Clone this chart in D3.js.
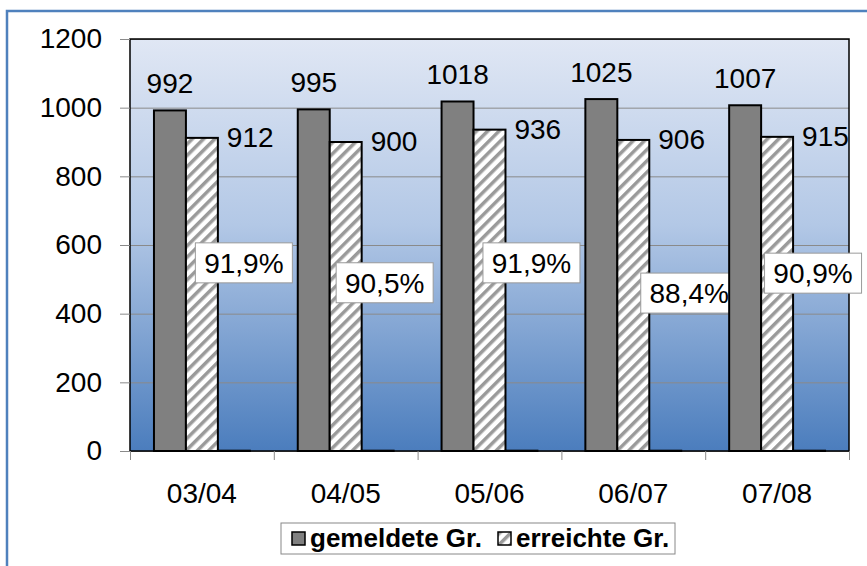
<!DOCTYPE html>
<html>
<head>
<meta charset="utf-8">
<script src="https://cdn.jsdelivr.net/npm/d3@7"></script>
<style>
  body { margin: 0; background: #fff; }
  svg { display: block; font-family: "Liberation Sans", Arial, sans-serif; }
</style>
</head>
<body>
<svg></svg>
<script>
const years = ['03/04', '04/05', '05/06', '06/07', '07/08']
const gemeldet = [992, 995, 1018, 1025, 1007]
const erreicht = [912, 900, 936, 906, 915]
const quote = [0.919, 0.905, 0.919, 0.884, 0.909]
const yTicks = [0, 200, 400, 600, 800, 1000, 1200]
const seriesNames = ['gemeldete Gr.', 'erreichte Gr.']

// where the percent boxes were dragged to (x nudge px, y in axis units)
const quoteNudge = [10, 7, 10, 24, 4]
const quoteAt = [548, 490, 548, 460, 518]

const width = 867, height = 566
const svg = d3.select('svg').attr('width', width).attr('height', height)

const margin = { top: 39, left: 130, right: 18, bottom: 115 }
const innerWidth = width - margin.left - margin.right
const innerHeight = height - margin.top - margin.bottom
const fs = 28
const font = '"Liberation Sans", Arial, sans-serif'

const de = d3.formatLocale({ decimal: ',', thousands: '.', grouping: [3], currency: ['', ' €'] })
const pct = de.format('.1%')

const defs = svg.append('defs')
const grad = defs.append('linearGradient').attr('id', 'bg')
  .attr('x1', 0).attr('y1', 0).attr('x2', 0).attr('y2', 1)
grad.append('stop').attr('offset', '0%').attr('stop-color', '#e0e7f4')
grad.append('stop').attr('offset', '45%').attr('stop-color', '#b3c8e6')
grad.append('stop').attr('offset', '100%').attr('stop-color', '#4b7dbd')

const hatch = defs.append('pattern').attr('id', 'hatch')
  .attr('patternUnits', 'userSpaceOnUse').attr('width', 8).attr('height', 8)
  .attr('patternTransform', 'rotate(45)')
hatch.append('rect').attr('width', 8).attr('height', 8).attr('fill', '#fff')
hatch.append('rect').attr('width', 3.5).attr('height', 8).attr('fill', '#9a9a9a')

// outer frame (runs past the right and bottom edge like the original)
svg.append('path')
  .attr('d', `M${width},11 H7 V${height}`)
  .attr('fill', 'none').attr('stroke', '#4f81bd').attr('stroke-width', 2.5)

const g = svg.append('g').attr('transform', `translate(${margin.left},${margin.top})`)

const x0 = d3.scaleBand().domain(years).range([0, innerWidth])
  .paddingInner(1 / 3).paddingOuter(1 / 6)
const x1 = d3.scaleBand().domain([0, 1, 2]).range([0, x0.bandwidth()])
const xEdge = d3.scaleLinear().domain([0, years.length]).range([0, innerWidth])
const yScale = d3.scaleLinear().domain([0, 1200]).range([innerHeight, 0])

g.append('rect').attr('width', innerWidth).attr('height', innerHeight).attr('fill', 'url(#bg)')

// gridlines
g.append('g')
  .call(d3.axisLeft(yScale).tickValues(yTicks).tickSize(-innerWidth).tickFormat(''))
  .call(a => a.select('.domain').remove())
  .call(a => a.selectAll('line').attr('stroke', '#8a8a8a').attr('stroke-width', 1))

// plot border
g.append('rect').attr('width', innerWidth).attr('height', innerHeight)
  .attr('fill', 'none').attr('stroke', '#000').attr('stroke-width', 1.5)

// y axis
g.append('g')
  .call(d3.axisLeft(yScale).tickValues(yTicks).tickSize(10).tickPadding(18).tickSizeOuter(0).tickFormat(d3.format('d')))
  .attr('font-size', fs).attr('font-family', font)
  .call(a => a.select('.domain').remove())
  .call(a => a.selectAll('line').attr('stroke', '#8a8a8a'))
  .call(a => a.selectAll('text').attr('fill', '#000'))

// x axis ticks at category edges
g.append('g').attr('transform', `translate(0,${innerHeight})`)
  .call(d3.axisBottom(xEdge).tickValues(d3.range(years.length + 1)).tickSize(9).tickFormat(''))
  .call(a => a.select('.domain').remove())
  .call(a => a.selectAll('line').attr('stroke', '#8a8a8a'))

g.append('g').attr('transform', `translate(0,${innerHeight})`)
  .call(d3.axisBottom(x0).tickSize(0).tickPadding(32))
  .attr('font-size', fs).attr('font-family', font)
  .call(a => a.select('.domain').remove())
  .call(a => a.selectAll('text').attr('fill', '#000'))

const rows = years.map((y, i) => ({ year: y, vals: [gemeldet[i], erreicht[i], quote[i]], i }))

const groups = g.selectAll('.grp').data(rows).enter().append('g')
  .attr('transform', d => `translate(${x0(d.year)},0)`)

const fills = ['#808080', 'url(#hatch)', '#111']
groups.selectAll('rect').data(d => d.vals.map((v, k) => ({ v, k }))).enter().append('rect')
  .attr('x', d => x1(d.k))
  .attr('y', d => yScale(d.v))
  .attr('width', x1.bandwidth())
  .attr('height', d => innerHeight - yScale(d.v))
  .attr('fill', d => fills[d.k])
  .attr('stroke', '#000')
  .attr('stroke-width', 2)

// value labels
groups.append('text')
  .attr('x', x1(0) + x1.bandwidth() / 2)
  .attr('y', d => yScale(d.vals[0]) - 17)
  .attr('text-anchor', 'middle').attr('font-size', fs)
  .text(d => d.vals[0])

groups.append('text')
  .attr('x', x1(1) + x1.bandwidth() + 9)
  .attr('y', d => yScale(d.vals[1]) + 9)
  .attr('font-size', fs)
  .text(d => d.vals[1])

// percent boxes
const boxW = 97, boxH = 40
const qb = groups.append('g')
  .attr('transform', d => `translate(${x1(2) + x1.bandwidth() / 2 + quoteNudge[d.i]},${yScale(quoteAt[d.i])})`)
qb.append('rect').attr('x', -boxW / 2).attr('y', -boxH / 2).attr('width', boxW).attr('height', boxH)
  .attr('fill', '#fff').attr('stroke', '#9a9a9a').attr('stroke-width', 1)
qb.append('text').attr('text-anchor', 'middle').attr('y', 10).attr('font-size', fs)
  .text(d => pct(d.vals[2]))

// legend
const lg = svg.append('g').attr('transform', 'translate(281,523)')
lg.append('rect').attr('width', 394).attr('height', 31)
  .attr('fill', '#fff').attr('stroke', '#888').attr('stroke-width', 1)
const legX = [11, 217]
const legItems = lg.selectAll('.li').data(seriesNames).enter().append('g')
  .attr('transform', (d, i) => `translate(${legX[i]},9)`)
legItems.append('rect').attr('width', 13).attr('height', 13)
  .attr('fill', (d, i) => fills[i]).attr('stroke', '#000').attr('stroke-width', 1.5)
legItems.append('text').attr('x', 18).attr('y', 15)
  .attr('font-size', 26).attr('font-weight', 'bold')
  .text(d => d)
</script>
</body>
</html>
